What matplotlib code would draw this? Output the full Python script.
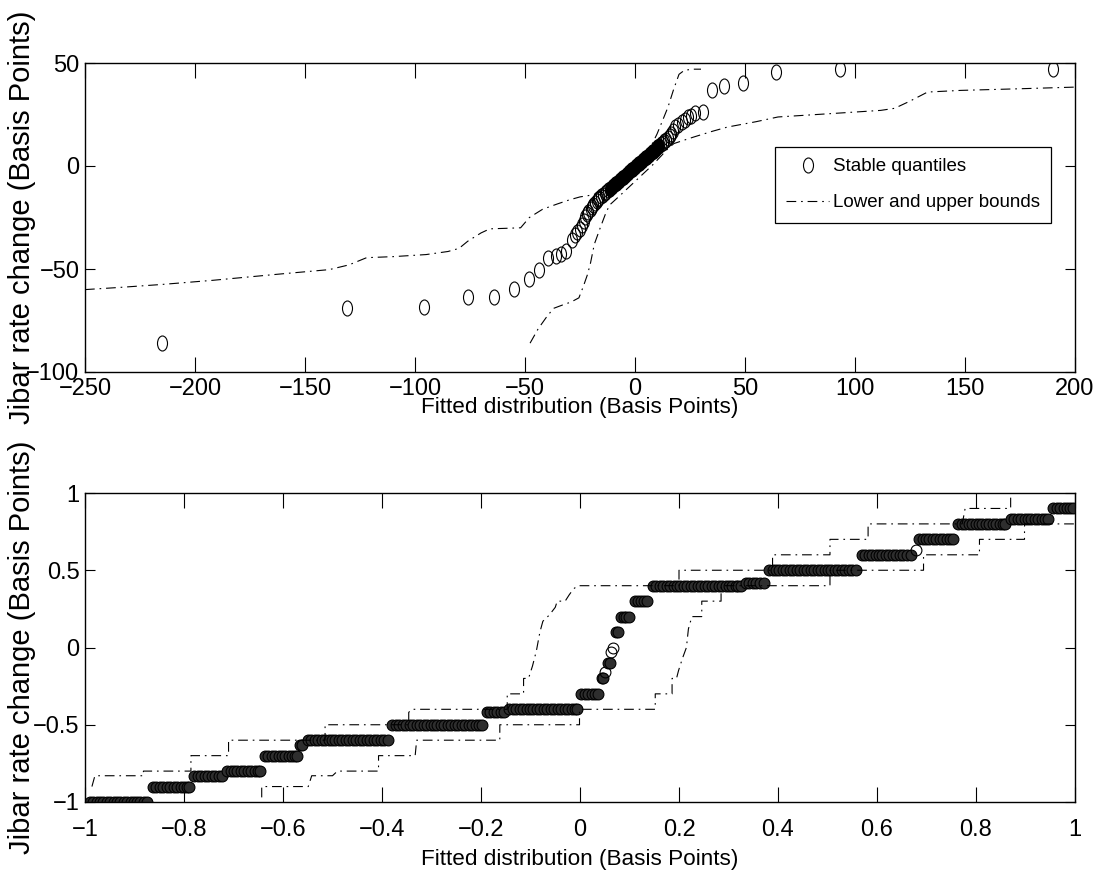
import matplotlib
matplotlib.use("Agg")
import matplotlib.pyplot as plt
from matplotlib.path import Path

# ---- top panel: stable quantiles (fitted vs observed, basis points) ----
# sparse points (drawn as open circles)
top_x = [-215, -131, -96, -76, -64, -55, -48, -43.5, -39.5, -36, -33.5, -31.5,
         -28.8, -27.5, -26.5, -25.2, -24.2, -23.2, -22.7, -21.8, -21.2, -20.2,
         -19.5, -18.9, -18.2, -17.5,
         -17.0, -16.2, -15.4, -14.6, -13.8, -13.0, -12.2,
         11.8, 12.6, 13.4, 14.2, 15.0, 15.8,
         16.5, 17.2, 18.2, 19.5, 21.2, 22.5, 24.2, 25.5, 27.3, 31, 35, 40.5, 49,
         64, 93, 190]
top_y = [-86, -69, -68.5, -63.5, -63.5, -59.5, -55, -50.5, -44.5, -43.5, -42.5,
         -41.5, -36, -33.5, -32, -30.5, -28.7, -26.5, -24.7, -23.5, -22.3, -21,
         -20, -19, -17.8, -16.8,
         -16.1, -15.5, -14.8, -14.0, -13.3, -12.5, -11.8,
         10.5, 11.2, 12.0, 12.8, 13.6, 14.5,
         15.5, 16.8, 19, 20, 21.4, 22.5, 23.8, 24.5, 25.5, 26.2, 36.8, 38.8, 40.5,
         45.6, 47.3, 47.3]
# heavily overplotted middle of the sample
core_x = [-11.4, -10.6, -9.8, -9.0, -8.2, -7.4, -6.6, -5.8, -5.0, -4.2, -3.4,
          -2.6, -1.8, -1.0, -0.2, 0.6, 1.4, 2.2, 3.0, 3.8, 4.6, 5.4, 6.2, 7.0,
          7.8, 8.6, 9.4, 10.2, 11.0]
core_y = [-11.0, -10.3, -9.6, -8.8, -8.1, -7.3, -6.6, -5.8, -5.1, -4.4, -3.6,
          -2.9, -2.1, -1.4, -0.7, 0.1, 0.8, 1.6, 2.3, 3.0, 3.8, 4.5, 5.3, 6.0,
          6.7, 7.5, 8.2, 9.0, 9.7]

top_upper_x = [-250, -235, -215, -192, -162, -139, -130, -122, -110, -95, -85,
               -80, -76, -70, -66, -60, -52, -48, -42, -35.5, -30, -25, -19, -14,
               -9, -4, 0, 4, 7, 10, 12.5, 15, 17.5, 20, 22.5, 26.5, 30]
top_upper_y = [-60, -59, -57.5, -55.5, -52.5, -50.3, -48, -44.5, -44, -43, -41.5,
               -40, -36.5, -32.5, -30.5, -30.3, -30, -25, -21, -18.5, -16.5, -15,
               -14, -11.5, -7, -2.5, 1, 5, 9, 15.5, 22, 28.6, 37, 44.5, 46.5, 47, 47]
top_lower_x = [-47.7, -44, -40, -37, -33, -29, -25.5, -23.5, -21.7, -20.3, -18.5,
               -15.8, -13.5, -11.6, -7, -2, 3, 8, 12, 15, 17.7, 22.2, 26.8, 35, 42,
               55, 65, 90, 111.7, 118, 125, 133, 148, 175, 200]
top_lower_y = [-86, -79, -73, -69.1, -67.5, -66, -64, -58.5, -53, -47.5, -38,
               -30, -23.5, -19, -14.5, -9.5, -4.5, 0.5, 5, 8.5, 10.9, 12.5, 14.1,
               16.8, 18.9, 21.5, 23.8, 25.5, 27, 28, 31.5, 35.9, 36.7, 37.5, 38.3]

# ---- bottom panel: quantiles sit on discrete levels ----
row_levels = [-1.0, -0.9, -0.83, -0.8, -0.7, -0.63, -0.6, -0.5, -0.42, -0.4,
              -0.3, -0.2, -0.16, -0.1, -0.03, 0.0, 0.1, 0.2, 0.3, 0.4, 0.42, 0.5,
              0.6, 0.63, 0.7, 0.8, 0.83, 0.9]
row_x = [
    [-0.990, -0.983, -0.976, -0.970, -0.963, -0.956, -0.949, -0.942, -0.936,
     -0.929, -0.922, -0.915, -0.908, -0.901, -0.895, -0.888, -0.881, -0.874],
    [-0.863, -0.856, -0.849, -0.842, -0.835, -0.828, -0.821, -0.814, -0.807,
     -0.800, -0.794, -0.789],
    [-0.779, -0.772, -0.765, -0.758, -0.751, -0.744, -0.737, -0.730, -0.724],
    [-0.713, -0.706, -0.699, -0.692, -0.685, -0.678, -0.671, -0.664, -0.657,
     -0.651, -0.646],
    [-0.637, -0.630, -0.623, -0.616, -0.609, -0.602, -0.595, -0.588, -0.581,
     -0.576, -0.572],
    [-0.566, -0.562],
    [-0.550, -0.543, -0.536, -0.529, -0.522, -0.515, -0.508, -0.501, -0.494,
     -0.487, -0.480, -0.473, -0.466, -0.459, -0.452, -0.445, -0.438, -0.431,
     -0.424, -0.417, -0.410, -0.403, -0.396, -0.388],
    [-0.379, -0.372, -0.365, -0.358, -0.351, -0.344, -0.337, -0.330, -0.323,
     -0.316, -0.309, -0.302, -0.295, -0.288, -0.281, -0.274, -0.267, -0.260,
     -0.253, -0.246, -0.239, -0.232, -0.225, -0.218, -0.211, -0.204, -0.197],
    [-0.188, -0.181, -0.174, -0.167, -0.160, -0.154],
    [-0.143, -0.136, -0.129, -0.122, -0.115, -0.108, -0.101, -0.094, -0.087,
     -0.080, -0.073, -0.066, -0.059, -0.052, -0.045, -0.038, -0.031, -0.024,
     -0.017, -0.011, -0.007],
    [0.003, 0.010, 0.017, 0.024, 0.031, 0.037],
    [0.044, 0.047],
    [0.051],
    [0.057, 0.060],
    [0.063],
    [0.067],
    [0.073, 0.076],
    [0.083, 0.088, 0.093, 0.099],
    [0.111, 0.117, 0.123, 0.130, 0.136],
    [0.147, 0.154, 0.161, 0.168, 0.175, 0.182, 0.189, 0.196, 0.203, 0.210,
     0.217, 0.224, 0.231, 0.238, 0.245, 0.252, 0.259, 0.266, 0.273, 0.280,
     0.287, 0.294, 0.301, 0.308, 0.315, 0.320, 0.325],
    [0.335, 0.342, 0.349, 0.356, 0.363, 0.372],
    [0.382, 0.389, 0.396, 0.403, 0.410, 0.417, 0.424, 0.431, 0.438, 0.445,
     0.452, 0.459, 0.466, 0.473, 0.480, 0.487, 0.494, 0.501, 0.508, 0.515,
     0.522, 0.529, 0.536, 0.543, 0.550, 0.558],
    [0.569, 0.576, 0.583, 0.590, 0.597, 0.604, 0.611, 0.618, 0.625, 0.632,
     0.639, 0.646, 0.653, 0.660, 0.668],
    [0.678],
    [0.685, 0.692, 0.699, 0.706, 0.713, 0.720, 0.727, 0.734, 0.741, 0.748, 0.754],
    [0.764, 0.771, 0.778, 0.785, 0.792, 0.799, 0.806, 0.813, 0.820, 0.827,
     0.834, 0.841, 0.848, 0.854, 0.859],
    [0.870, 0.877, 0.884, 0.891, 0.898, 0.905, 0.912, 0.919, 0.926, 0.933,
     0.940, 0.945],
    [0.956, 0.963, 0.970, 0.977, 0.984, 0.990, 0.995],
]

bot_upper_x = [-0.986, -0.980, -0.882, -0.882, -0.786, -0.786, -0.710, -0.710,
               -0.515, -0.515, -0.346, -0.346, -0.340, -0.147, -0.147, -0.114,
               -0.114, -0.104, -0.096, -0.088, -0.081, -0.075, -0.062, -0.050,
               -0.046, -0.030, -0.022, -0.013, -0.004, 0.200, 0.200, 0.389,
               0.389, 0.505, 0.505, 0.582, 0.582, 0.772, 0.774, 0.778, 0.870,
               0.870]
bot_upper_y = [-0.90, -0.83, -0.83, -0.80, -0.80, -0.70, -0.70, -0.60, -0.60,
               -0.50, -0.50, -0.42, -0.40, -0.40, -0.30, -0.30, -0.20, -0.20,
               -0.12, -0.02, 0.10, 0.17, 0.21, 0.26, 0.30, 0.30, 0.34, 0.38, 0.40,
               0.40, 0.50, 0.50, 0.60, 0.60, 0.70, 0.70, 0.80, 0.80, 0.83, 0.90,
               0.90, 1.05]
bot_lower_x = [-0.643, -0.643, -0.549, -0.542, -0.500, -0.490, -0.407, -0.407,
               -0.333, -0.330, -0.162, -0.162, -0.001, -0.001, 0.152, 0.152,
               0.186, 0.186, 0.195, 0.199, 0.207, 0.215, 0.219, 0.226, 0.246,
               0.246, 0.285, 0.285, 0.505, 0.505, 0.694, 0.694, 0.807, 0.807,
               0.898, 0.898, 1.0]
bot_lower_y = [-0.97, -0.90, -0.90, -0.83, -0.83, -0.80, -0.80, -0.70, -0.70,
               -0.60, -0.60, -0.50, -0.50, -0.40, -0.40, -0.30, -0.30, -0.20,
               -0.20, -0.15, -0.07, 0.00, 0.12, 0.20, 0.20, 0.30, 0.30, 0.40, 0.40,
               0.50, 0.50, 0.60, 0.60, 0.70, 0.70, 0.80, 0.80]

xlabel = "Fitted distribution (Basis Points)"
ylabel = "Jibar rate change (Basis Points)"

plt.rcParams["font.family"] = ["Liberation Sans", "DejaVu Sans"]
plt.rcParams["axes.unicode_minus"] = True
plt.rcParams["lines.scale_dashes"] = False

DASHDOT = (0, (7, 3.5, 1.2, 3.5))
TICK_FS = 17

# circle markers in the top panel look stretched vertically
circ = Path.unit_circle()
ellipse = Path(circ.vertices * [0.667, 1.0], circ.codes)

fig = plt.figure(figsize=(11.06, 8.76), dpi=100)
W, H = 1106.0, 876.0
ax1 = fig.add_axes([85 / W, 1 - 372 / H, 990 / W, 309 / H])
ax2 = fig.add_axes([85 / W, 1 - 802 / H, 990 / W, 309 / H])


def style_axes(ax, xpad, labelpad):
    for s in ax.spines.values():
        s.set_linewidth(1.0)
    ax.tick_params(direction="in", top=True, right=True, labelsize=TICK_FS, width=0.8)
    ax.tick_params(axis="x", length=10.5, pad=xpad)
    ax.tick_params(axis="y", length=7, pad=4)
    ax.set_xlabel(xlabel, fontsize=16.2, labelpad=labelpad)
    ax.set_ylabel(ylabel, fontsize=21)
    ax.yaxis.set_label_coords(-0.064, 0.5)
    ax.yaxis.label.set_va("center")


# top panel
ax1.plot(top_x, top_y, linestyle="none", marker=ellipse, markersize=10.8,
         mfc="none", mec="black", mew=0.8, label="Stable quantiles")
ax1.plot(core_x, core_y, linestyle="none", marker=ellipse, markersize=10.8,
         mfc="black", mec="black", mew=0.8)
ax1.plot(top_upper_x, top_upper_y, color="black", lw=0.8, linestyle=DASHDOT,
         label="Lower and upper bounds")
ax1.plot(top_lower_x, top_lower_y, color="black", lw=0.8, linestyle=DASHDOT)
ax1.set_xlim(-250, 200)
ax1.set_ylim(-100, 50)
ax1.set_xticks(range(-250, 201, 50))
ax1.set_yticks([-100, -50, 0, 50])
style_axes(ax1, 4, -1.5)
leg = ax1.legend(loc="upper right", bbox_to_anchor=(0.976, 0.728), fontsize=13.5,
                 frameon=True, fancybox=False, edgecolor="black", framealpha=1,
                 handlelength=2.3, handletextpad=0.2, borderpad=0.6,
                 labelspacing=1.0, borderaxespad=0)
leg.get_frame().set_linewidth(0.9)

# bottom panel: long runs of overlapping circles read as dark bars
for lvl, xs in zip(row_levels, row_x):
    face = "#2e2e2e" if len(xs) > 1 else "none"
    ax2.plot(xs, [lvl] * len(xs), linestyle="none", marker="o", markersize=7.8,
             mfc=face, mec="black", mew=0.8)
ax2.plot(bot_upper_x, bot_upper_y, color="black", lw=0.8, linestyle=DASHDOT)
ax2.plot(bot_lower_x, bot_lower_y, color="black", lw=0.8, linestyle=DASHDOT)
ax2.set_xlim(-1, 1)
ax2.set_ylim(-1, 1)
ax2.set_xticks([-1, -0.8, -0.6, -0.4, -0.2, 0, 0.2, 0.4, 0.6, 0.8, 1])
ax2.set_xticklabels(["\u22121", "\u22120.8", "\u22120.6", "\u22120.4", "\u22120.2", "0",
                     "0.2", "0.4", "0.6", "0.8", "1"])
ax2.set_yticks([-1, -0.5, 0, 0.5, 1])
ax2.set_yticklabels(["\u22121", "\u22120.5", "0", "0.5", "1"])
style_axes(ax2, 12, 6)

fig.savefig("out.png", dpi=100)
